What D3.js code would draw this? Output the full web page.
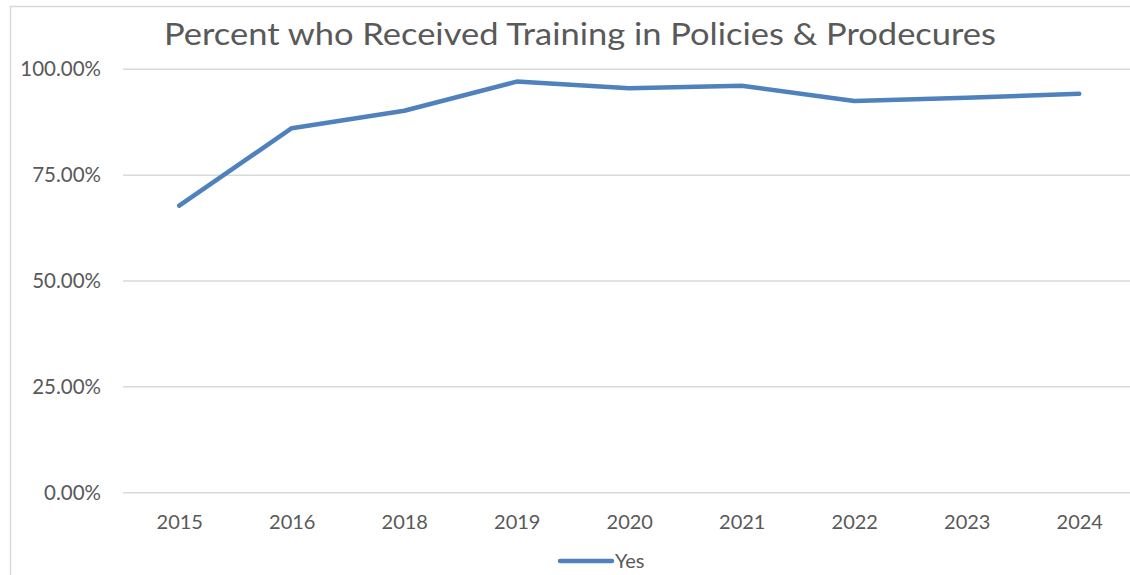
<!DOCTYPE html>
<html>
<head>
<meta charset="utf-8">
<script src="https://cdn.jsdelivr.net/npm/d3@7"></script>
<style>
  body { margin: 0; background: #fff; }
  svg { display: block; }
</style>
</head>
<body>
<svg id="chart" width="1130" height="575"></svg>
<script>
// data
var chartTitle = "Percent who Received Training in Policies & Prodecures";
var years = ["2015", "2016", "2018", "2019", "2020", "2021", "2022", "2023", "2024"];
var yesValues = [0.678, 0.861, 0.902, 0.971, 0.955, 0.961, 0.925, 0.933, 0.942];
var yTicks = [0, 0.25, 0.5, 0.75, 1];
var seriesName = "Yes";

var fontFam = "Lato, 'Open Sans', sans-serif";
var textCol = "#595959";
var lineCol = "#4f81bd";

var svg = d3.select("#chart");

// outer chart frame (runs off the right/bottom edge)
svg.append("rect")
    .attr("x", 10.5).attr("y", 6.5)
    .attr("width", 1200).attr("height", 700)
    .style("fill", "none")
    .style("stroke", "#d9d9d9")
    .style("stroke-width", 1.5);

var plot = { left: 123, right: 1135.5, top: 69.3, bottom: 492.7 };

var x = d3.scalePoint()
    .domain(years)
    .range([plot.left, plot.right])
    .padding(0.5);

var y = d3.scaleLinear()
    .domain([0, 1])
    .range([plot.bottom, plot.top]);

// gridlines
svg.append("g").selectAll("line")
    .data(yTicks)
    .join("line")
    .attr("x1", plot.left).attr("x2", plot.right)
    .attr("y1", d => y(d)).attr("y2", d => y(d))
    .style("stroke", "#d9d9d9")
    .style("stroke-width", 1.5);

// y axis labels
var yAxis = d3.axisLeft(y)
    .tickValues(yTicks)
    .tickFormat(d3.format(".2%"))
    .tickSize(0)
    .tickPadding(0);

var yg = svg.append("g")
    .attr("transform", "translate(101,0)")
    .call(yAxis);
yg.select(".domain").remove();
yg.selectAll("text")
    .style("font-family", fontFam)
    .style("font-size", "20.5px")
    .style("fill", textCol);

// x axis labels
var xAxis = d3.axisBottom(x).tickSize(0).tickPadding(0);
var xg = svg.append("g")
    .attr("transform", "translate(0,515)")
    .call(xAxis);
xg.select(".domain").remove();
xg.selectAll("text")
    .style("font-family", fontFam)
    .style("font-size", "20px")
    .style("fill", textCol);

// the series line
var line = d3.line()
    .x((d, i) => x(years[i]))
    .y(d => y(d));

svg.append("path")
    .datum(yesValues)
    .attr("d", line)
    .style("fill", "none")
    .style("stroke", lineCol)
    .style("stroke-width", 4.5)
    .style("stroke-linecap", "round")
    .style("stroke-linejoin", "round");

// title
svg.append("text")
    .attr("x", 580)
    .attr("y", 45)
    .attr("text-anchor", "middle")
    .attr("textLength", 832)
    .attr("lengthAdjust", "spacingAndGlyphs")
    .style("font-family", fontFam)
    .style("font-size", "31px")
    .style("fill", textCol)
    .text(chartTitle);

// legend
svg.append("line")
    .attr("x1", 560).attr("x2", 612)
    .attr("y1", 561).attr("y2", 561)
    .style("stroke", lineCol)
    .style("stroke-width", 4.5)
    .style("stroke-linecap", "round");

svg.append("text")
    .attr("x", 615)
    .attr("y", 568)
    .style("font-family", fontFam)
    .style("font-size", "20px")
    .style("fill", textCol)
    .text(seriesName);
</script>
</body>
</html>
